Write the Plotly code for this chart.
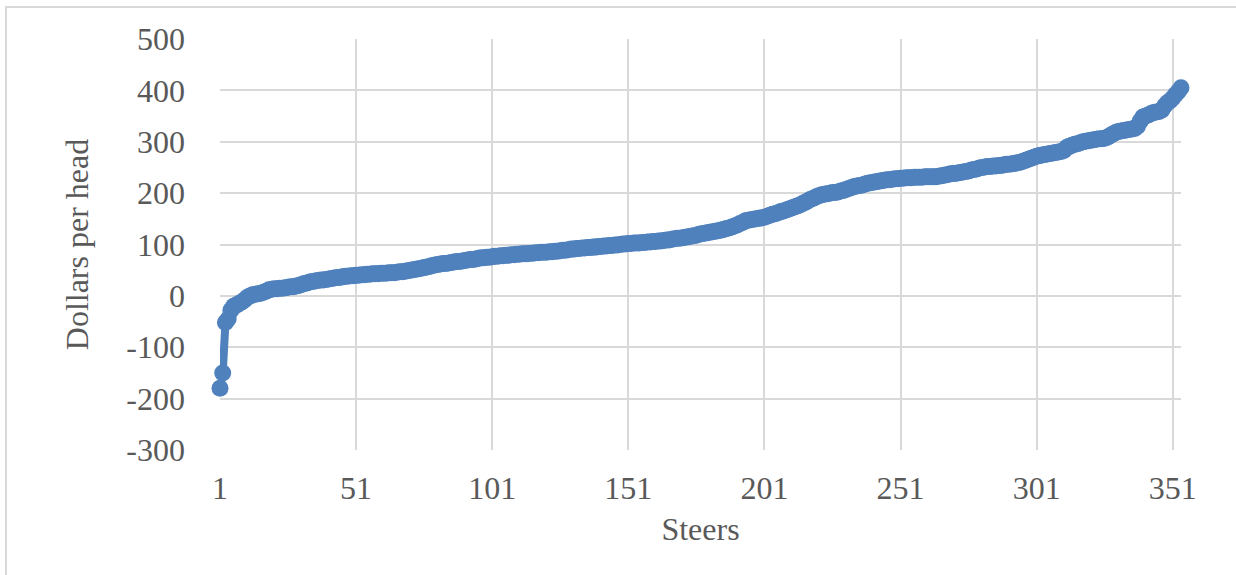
import plotly.graph_objects as go

# Net return per steer, sorted from lowest to highest (dollars per head)
profit_per_head = [
    -180, -150, -52, -45, -28, -20, -18, -15, -12, -8,
    -3, 0, 2, 3, 4, 5, 7, 9, 12, 13,
    14, 14, 15, 15, 16, 17, 18, 18, 19, 20,
    22, 24, 25, 27, 28, 29, 30, 31, 31, 32,
    33, 34, 35, 36, 36, 37, 38, 38, 39, 39,
    40, 40, 41, 41, 42, 42, 43, 43, 43, 44,
    44, 44, 45, 45, 45, 46, 47, 47, 48, 49,
    50, 51, 52, 53, 54, 55, 56, 57, 59, 60,
    61, 62, 63, 63, 64, 65, 66, 67, 67, 68,
    69, 70, 71, 71, 72, 73, 74, 74, 75, 75,
    76, 77, 77, 78, 78, 79, 79, 80, 80, 81,
    81, 82, 82, 82, 83, 83, 84, 84, 85, 85,
    85, 86, 86, 87, 87, 88, 89, 89, 90, 91,
    91, 92, 92, 93, 93, 94, 94, 95, 95, 96,
    96, 97, 97, 98, 98, 99, 99, 100, 101, 101,
    102, 102, 103, 103, 103, 104, 104, 105, 105, 106,
    106, 107, 107, 108, 109, 109, 110, 111, 112, 112,
    113, 114, 115, 116, 117, 118, 120, 121, 122, 123,
    124, 125, 126, 127, 128, 129, 131, 132, 134, 136,
    138, 141, 143, 146, 147, 148, 149, 150, 151, 152,
    153, 155, 157, 159, 160, 162, 164, 165, 167, 169,
    171, 173, 175, 177, 180, 182, 185, 188, 190, 193,
    195, 197, 198, 199, 200, 201, 201, 202, 204, 205,
    207, 209, 211, 213, 214, 215, 216, 218, 219, 220,
    221, 222, 223, 224, 225, 226, 226, 227, 228, 228,
    229, 229, 230, 230, 230, 231, 231, 231, 231, 232,
    232, 232, 232, 232, 233, 234, 235, 236, 237, 238,
    238, 239, 240, 241, 242, 243, 245, 246, 247, 249,
    250, 251, 252, 252, 253, 253, 254, 254, 255, 256,
    256, 257, 258, 259, 260, 262, 264, 266, 268, 270,
    272, 273, 274, 275, 276, 277, 278, 279, 280, 281,
    283, 289, 291, 293, 295, 296, 298, 300, 301, 302,
    303, 304, 305, 306, 306, 307, 309, 312, 315, 318,
    320, 321, 322, 323, 324, 325, 326, 330, 340, 348,
    350, 352, 355, 357, 358, 359, 362, 370, 376, 380,
    385, 392, 398, 405,
]
steer_number = list(range(1, len(profit_per_head) + 1))

x_ticks = [1, 51, 101, 151, 201, 251, 301, 351]
y_ticks = [-300, -200, -100, 0, 100, 200, 300, 400, 500]
y_tick_labels = ["-300", "-200", "-100", "0", "100", "200", "300", "400", "500"]

BLUE = "#4F81BD"
GRID = "#D9D9D9"
TEXT = "#595959"
FONT = "Liberation Serif"
FONT_SIZE = 32

fig = go.Figure(
    go.Scatter(
        x=steer_number,
        y=profit_per_head,
        mode="lines+markers",
        line=dict(color=BLUE, width=8),
        marker=dict(color=BLUE, size=17),
        cliponaxis=False,
        showlegend=False,
    )
)

axis_common = dict(
    showgrid=True,
    gridcolor=GRID,
    gridwidth=2,
    showline=False,
    zeroline=False,
    ticks="",
    tickfont=dict(family=FONT, size=FONT_SIZE, color=TEXT),
)

fig.update_xaxes(
    range=[1, 354],
    tickvals=x_ticks,
    ticktext=[str(v) for v in x_ticks],
    ticklabelstandoff=16,
    title=dict(text="Steers", font=dict(family=FONT, size=FONT_SIZE, color=TEXT), standoff=12),
    **axis_common,
)
fig.update_yaxes(
    range=[-300, 500],
    tickvals=y_ticks,
    ticktext=y_tick_labels,
    ticklabelstandoff=34,
    title=dict(text="Dollars per head", font=dict(family=FONT, size=FONT_SIZE, color=TEXT), standoff=28),
    **axis_common,
)

# Chart frame around the whole figure area
fig.add_shape(
    type="rect", xref="paper", yref="paper",
    x0=-0.2227, x1=1.2, y0=-0.5, y1=1.078,
    line=dict(color=GRID, width=2), fillcolor="rgba(0,0,0,0)", layer="below",
)

fig.update_layout(
    width=1236,
    height=575,
    margin=dict(l=220, r=55, t=39, b=125),
    paper_bgcolor="white",
    plot_bgcolor="white",
)

fig.write_html("out.html")
